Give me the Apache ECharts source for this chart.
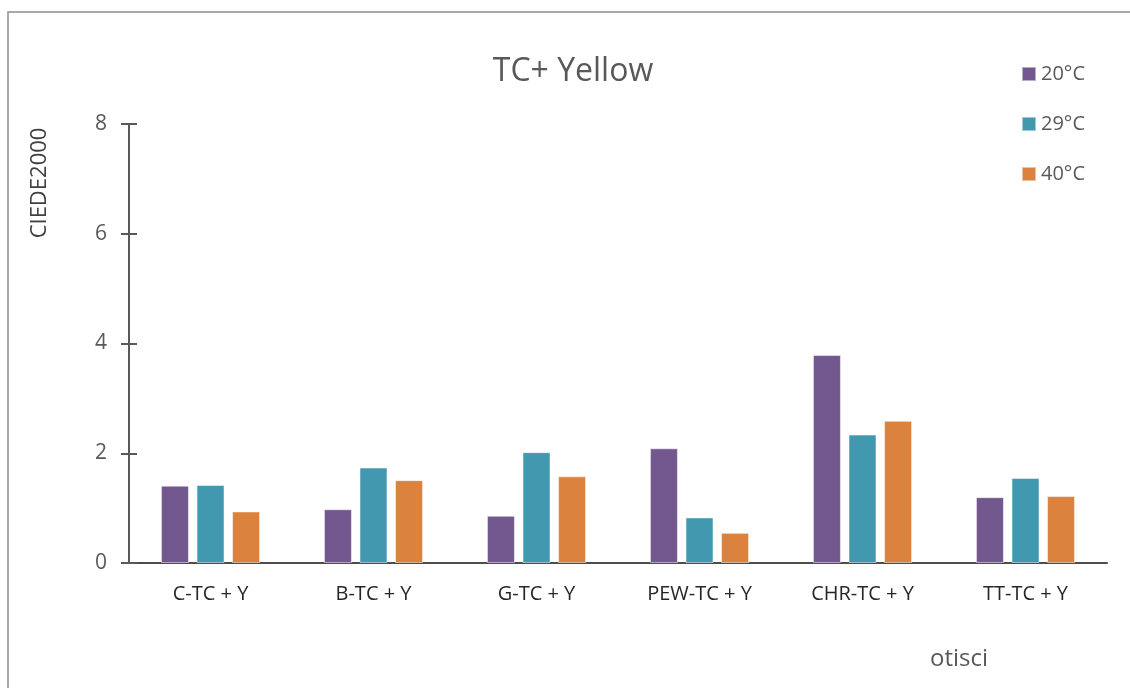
<!DOCTYPE html>
<html>
<head>
<meta charset="utf-8">
<script src="https://cdn.jsdelivr.net/npm/echarts@6/dist/echarts.min.js"></script>
<style>html,body{margin:0;padding:0;background:#fff;}#c{width:1130px;height:688px;}</style>
</head>
<body>
<div id="c"></div>
<script>
const categories = ['C-TC + Y', 'B-TC + Y', 'G-TC + Y', 'PEW-TC + Y', 'CHR-TC + Y', 'TT-TC + Y'];
const seriesNames = ['20°C', '29°C', '40°C'];
const values20 = [1.41, 0.98, 0.86, 2.09, 3.79, 1.20];
const values29 = [1.42, 1.74, 2.02, 0.83, 2.34, 1.55];
const values40 = [0.94, 1.51, 1.58, 0.55, 2.59, 1.22];
const yTicks = [0, 2, 4, 6, 8];
const colors = ['#72588F', '#4298AF', '#DB833E'];

const font = "'Open Sans', 'Noto Sans', sans-serif";
const chart = echarts.init(document.getElementById('c'), null, {renderer: 'canvas'});
const allValues = [values20, values29, values40];
chart.setOption({
  animation: false,
  backgroundColor: '#fff',
  color: colors,
  title: {
    text: 'TC+ Yellow',
    left: 568, top: 51, textAlign: 'center',
    textStyle: {fontFamily: font, fontSize: 32, fontWeight: 'normal', color: '#595959'}
  },
  legend: {
    orient: 'vertical',
    left: 1021, top: 62, padding: 0,
    itemWidth: 14, itemHeight: 14, itemGap: 26,
    icon: 'rect',
    data: seriesNames,
    textStyle: {fontFamily: font, fontSize: 20, color: '#595959', lineHeight: 24}
  },
  grid: {left: 129, right: 23, top: 124, bottom: 125, containLabel: false},
  xAxis: {
    type: 'category',
    data: categories,
    axisLine: {show: true, lineStyle: {color: '#4d4d4d', width: 2}},
    axisTick: {show: false},
    axisLabel: {fontFamily: font, fontSize: 20, color: '#262626', margin: 21}
  },
  yAxis: [{
    type: 'value',
    min: yTicks[0], max: yTicks[yTicks.length - 1], interval: 2,
    axisLine: {show: true, lineStyle: {color: '#595959', width: 2}},
    axisTick: {show: true, length: 8, lineStyle: {color: '#595959', width: 2}},
    axisLabel: {fontFamily: font, fontSize: 21, color: '#595959', margin: 22},
    splitLine: {show: false}
  }, {
    type: 'value',
    position: 'left',
    min: yTicks[0], max: yTicks[yTicks.length - 1], interval: 2,
    axisLine: {show: false},
    axisTick: {show: true, inside: true, length: 8, lineStyle: {color: '#595959', width: 2}},
    axisLabel: {show: false},
    splitLine: {show: false}
  }],
  series: seriesNames.map((n, i) => ({
    name: n,
    type: 'bar',
    data: allValues[i],
    barWidth: 28,
    barGap: '27%',
    itemStyle: {color: colors[i], borderColor: 'rgba(255,255,255,0.5)', borderWidth: 1}
  })),
  graphic: [
    {type: 'rect', shape: {x: 8, y: 12, width: 1200, height: 800}, style: {fill: 'none', stroke: '#8c8c8c', lineWidth: 1.5}, silent: true},
    {type: 'text', left: 930, top: 647, style: {text: 'otisci', fontFamily: font, fontSize: 24, fill: '#595959'}},
    {type: 'text', x: 40, y: 183, rotation: Math.PI / 2, style: {text: 'CIEDE2000', fontFamily: font, fontSize: 22, fill: '#404040', align: 'center', verticalAlign: 'middle'}}
  ]
});
</script>
</body>
</html>
